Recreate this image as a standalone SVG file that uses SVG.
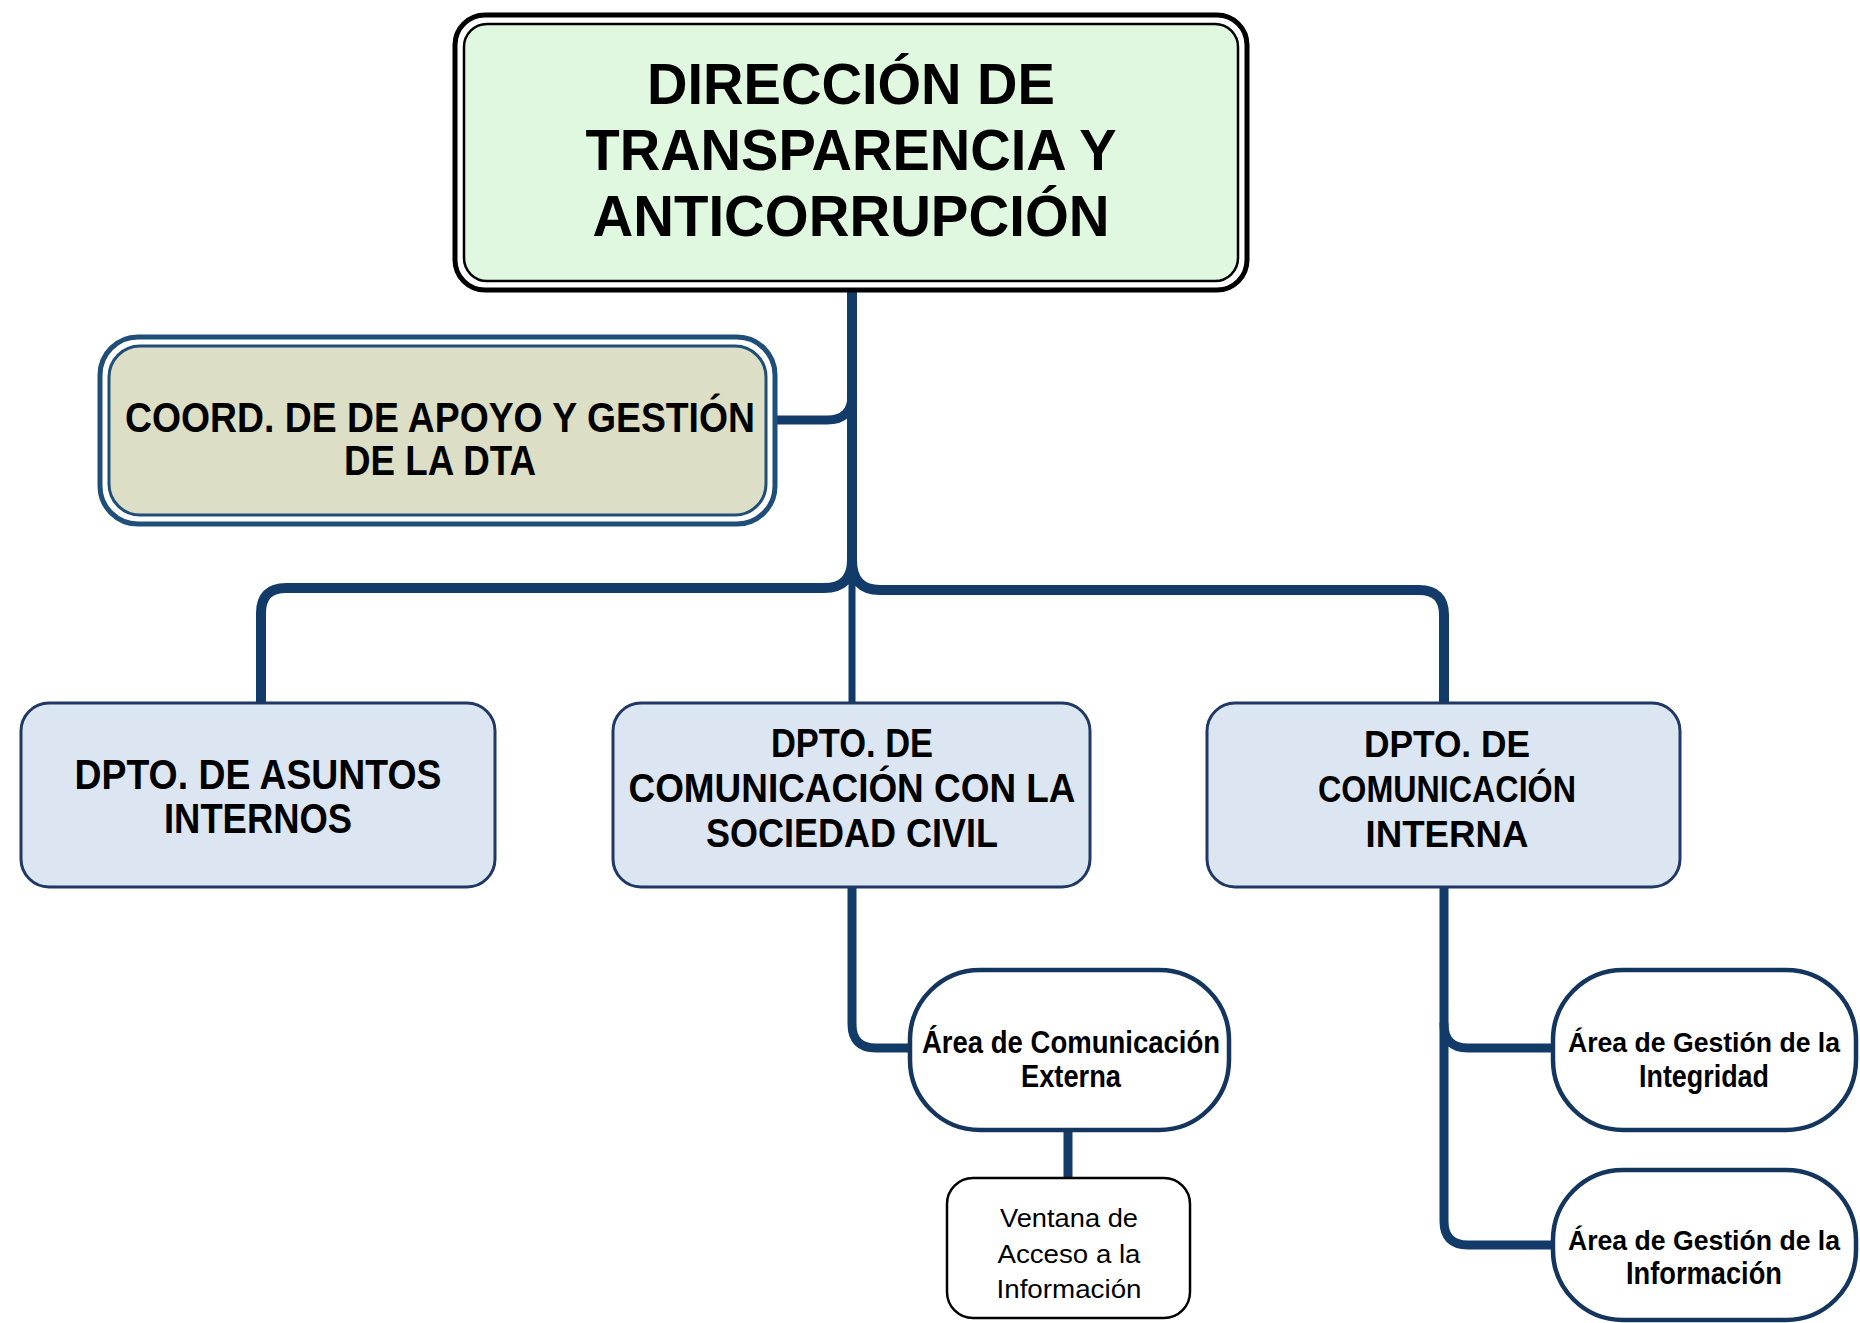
<svg xmlns="http://www.w3.org/2000/svg" width="1860" height="1323" viewBox="0 0 1860 1323">
<style>
.t{font-family:"Liberation Sans",Arial,sans-serif;font-weight:bold;fill:#000;text-anchor:middle}
.r{font-family:"Liberation Sans",Arial,sans-serif;font-weight:normal;fill:#000;text-anchor:middle}
.c{fill:none;stroke:#123B69;stroke-linecap:round;stroke-linejoin:round}
.dept{fill:#DCE6F2;stroke:#1F3864;stroke-width:3}
.area{fill:#FFFFFF;stroke:#14365E;stroke-width:4.5}
</style>
<rect width="1860" height="1323" fill="#FFFFFF"/>
<g id="connectors">
<path class="c" stroke-width="10" d="M852 291 L852 560"/>
<path class="c" stroke-width="9" d="M852 395 Q852 420 827 420 L776 420"/>
<path class="c" stroke-width="10" d="M852 560 Q852 588 824 588 L286 588 Q261 588 261 613 L261 703"/>
<path class="c" stroke-width="10" d="M852 560 Q852 590 880 590 L1419 590 Q1444 590 1444 615 L1444 703"/>
<path class="c" stroke-width="7" d="M852 580 L852 703"/>
<path class="c" stroke-width="9" d="M852 887 L852 1024 Q852 1048 876 1048 L910 1048"/>
<path class="c" stroke-width="9" d="M1068 1130 L1068 1178"/>
<path class="c" stroke-width="9" d="M1444 887 L1444 1221 Q1444 1245 1468 1245 L1553 1245"/>
<path class="c" stroke-width="9" d="M1444 1024 Q1444 1048 1468 1048 L1553 1048"/>
</g>
<g id="n-direccion">
<rect x="455" y="15" width="792" height="275" rx="30" fill="#FFFFFF" stroke="#000" stroke-width="5"/>
<rect x="464" y="24" width="774" height="257" rx="23" fill="#DFF8DF" stroke="#000" stroke-width="2.5"/>
<text class="t" font-size="57" x="851" y="104" textLength="408" lengthAdjust="spacingAndGlyphs">DIRECCIÓN DE</text>
<text class="t" font-size="57" x="851" y="170" textLength="531" lengthAdjust="spacingAndGlyphs">TRANSPARENCIA Y</text>
<text class="t" font-size="57" x="851" y="236" textLength="517" lengthAdjust="spacingAndGlyphs">ANTICORRUPCIÓN</text>
</g>
<g id="n-coord">
<rect x="100" y="337" width="675" height="187" rx="38" fill="#FFFFFF" stroke="#1F4E79" stroke-width="5"/>
<rect x="109" y="346" width="657" height="169" rx="31" fill="#DCDEC6" stroke="#1F4E79" stroke-width="3"/>
<text class="t" font-size="42" x="440" y="432" textLength="630" lengthAdjust="spacingAndGlyphs">COORD. DE DE APOYO Y GESTIÓN</text>
<text class="t" font-size="42" x="440" y="475" textLength="192" lengthAdjust="spacingAndGlyphs">DE LA DTA</text>
</g>
<g id="n-asuntos">
<rect class="dept" x="21" y="703" width="474" height="184" rx="28"/>
<text class="t" font-size="42" x="258" y="789" textLength="367" lengthAdjust="spacingAndGlyphs">DPTO. DE ASUNTOS</text>
<text class="t" font-size="42" x="258" y="833" textLength="188" lengthAdjust="spacingAndGlyphs">INTERNOS</text>
</g>
<g id="n-sociedad">
<rect class="dept" x="613" y="703" width="477" height="184" rx="28"/>
<text class="t" font-size="40" x="852" y="757" textLength="162" lengthAdjust="spacingAndGlyphs">DPTO. DE</text>
<text class="t" font-size="40" x="852" y="802" textLength="447" lengthAdjust="spacingAndGlyphs">COMUNICACIÓN CON LA</text>
<text class="t" font-size="40" x="852" y="847" textLength="292" lengthAdjust="spacingAndGlyphs">SOCIEDAD CIVIL</text>
</g>
<g id="n-interna">
<rect class="dept" x="1207" y="703" width="473" height="184" rx="28"/>
<text class="t" font-size="36" x="1447" y="757" textLength="166" lengthAdjust="spacingAndGlyphs">DPTO. DE</text>
<text class="t" font-size="36" x="1447" y="802" textLength="258" lengthAdjust="spacingAndGlyphs">COMUNICACIÓN</text>
<text class="t" font-size="36" x="1447" y="847" textLength="163" lengthAdjust="spacingAndGlyphs">INTERNA</text>
</g>
<g id="n-externa">
<rect class="area" x="910" y="970" width="319" height="160" rx="70"/>
<text class="t" font-size="32" x="1071" y="1053" textLength="298" lengthAdjust="spacingAndGlyphs">Área de Comunicación</text>
<text class="t" font-size="32" x="1071" y="1087" textLength="100" lengthAdjust="spacingAndGlyphs">Externa</text>
</g>
<g id="n-ventana">
<rect x="947" y="1178" width="243" height="140" rx="26" fill="#FFFFFF" stroke="#000" stroke-width="2.5"/>
<text class="r" font-size="26" x="1069" y="1227" textLength="138" lengthAdjust="spacingAndGlyphs">Ventana de</text>
<text class="r" font-size="26" x="1069" y="1263" textLength="143" lengthAdjust="spacingAndGlyphs">Acceso a la</text>
<text class="r" font-size="26" x="1069" y="1298" textLength="145" lengthAdjust="spacingAndGlyphs">Información</text>
</g>
<g id="n-integridad">
<rect class="area" x="1553" y="970" width="303" height="160" rx="70"/>
<text class="t" font-size="28.5" x="1704" y="1052" textLength="272" lengthAdjust="spacingAndGlyphs">Área de Gestión de la</text>
<text class="t" font-size="31" x="1704" y="1087" textLength="130" lengthAdjust="spacingAndGlyphs">Integridad</text>
</g>
<g id="n-informacion">
<rect class="area" x="1553" y="1170" width="303" height="150" rx="70"/>
<text class="t" font-size="28.5" x="1704" y="1250" textLength="272" lengthAdjust="spacingAndGlyphs">Área de Gestión de la</text>
<text class="t" font-size="31" x="1704" y="1284" textLength="156" lengthAdjust="spacingAndGlyphs">Información</text>
</g>
</svg>
